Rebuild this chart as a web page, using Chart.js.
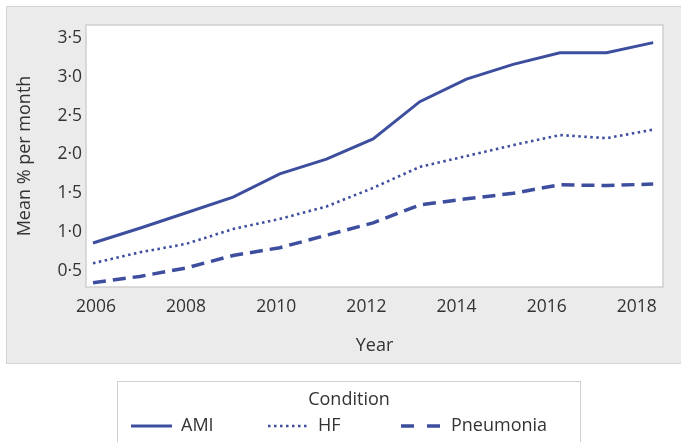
<!DOCTYPE html>
<html>
<head>
<meta charset="utf-8">
<script src="https://cdn.jsdelivr.net/npm/chart.js@4.4.0/dist/chart.umd.min.js"></script>
<style>
  html, body { margin: 0; padding: 0; background: #fff; }
  #wrap { width: 681px; height: 442px; }
</style>
</head>
<body>
<div id="wrap"><canvas id="chart" width="681" height="442"></canvas></div>
<script>
// Data
var years = [2006, 2007, 2008, 2009, 2010, 2011, 2012, 2013, 2014, 2015, 2016, 2017, 2018];
var ami = [0.86, 1.05, 1.25, 1.45, 1.75, 1.94, 2.20, 2.68, 2.97, 3.16, 3.31, 3.31, 3.44];
var hf = [0.60, 0.74, 0.85, 1.04, 1.17, 1.33, 1.57, 1.84, 1.98, 2.12, 2.25, 2.21, 2.32];
var pneumonia = [0.35, 0.43, 0.54, 0.70, 0.80, 0.96, 1.12, 1.35, 1.43, 1.50, 1.61, 1.60, 1.62];
var seriesNames = ["AMI", "HF", "Pneumonia"];

var lineColor = "#3d4e9e";
var textColor = "#333333";
var fontFamily = "'Open Sans', 'Noto Sans', sans-serif";

function pairs(values) {
  return years.map(function(y, i) { return { x: y, y: values[i] }; });
}

// Lancet style decimal point
function fmtTick(v) {
  return v.toFixed(1).replace(".", "\u00b7");
}

// gray panel + white plot box
var panelPlugin = {
  id: "panel",
  beforeDraw: function(chart) {
    var ctx = chart.ctx;
    var a = chart.chartArea;
    ctx.save();
    ctx.fillStyle = "#ebebeb";
    ctx.fillRect(6, 6, 680, 358);
    ctx.strokeStyle = "#d4d4d4";
    ctx.lineWidth = 1;
    ctx.strokeRect(6.5, 6.5, 680, 357);
    ctx.fillStyle = "#ffffff";
    ctx.fillRect(a.left, a.top, a.right - a.left, a.bottom - a.top);
    ctx.strokeStyle = "#d0d0d0";
    ctx.lineWidth = 1.5;
    ctx.strokeRect(a.left, a.top, a.right - a.left, a.bottom - a.top);
    ctx.restore();
  }
};

// legend box under the panel
var legendX = [131, 268, 401];
var legendDash = [[], [2.5, 3.5], [13, 13]];
var legendPlugin = {
  id: "conditionLegend",
  afterDraw: function(chart) {
    var ctx = chart.ctx;
    ctx.save();
    ctx.fillStyle = "#ffffff";
    ctx.fillRect(117, 381, 463, 70);
    ctx.strokeStyle = "#cfcfcf";
    ctx.lineWidth = 1;
    ctx.strokeRect(117.5, 381.5, 463, 70);

    ctx.fillStyle = textColor;
    ctx.font = "18px " + fontFamily;
    ctx.textAlign = "center";
    ctx.textBaseline = "middle";
    ctx.fillText("Condition", 349, 400);

    ctx.textAlign = "left";
    chart.data.datasets.forEach(function(ds, i) {
      var x = legendX[i];
      ctx.strokeStyle = ds.borderColor;
      ctx.lineWidth = ds.borderWidth;
      ctx.setLineDash(legendDash[i]);
      ctx.beginPath();
      ctx.moveTo(x, 426);
      ctx.lineTo(x + 41, 426);
      ctx.stroke();
      ctx.setLineDash([]);
      ctx.fillStyle = textColor;
      ctx.fillText(ds.label, x + 50, 426);
    });
    ctx.restore();
  }
};

var chart = new Chart(document.getElementById("chart"), {
  type: "line",
  data: {
    datasets: [
      {
        label: seriesNames[0],
        data: pairs(ami),
        borderColor: lineColor,
        borderWidth: 3,
        pointRadius: 0
      }, {
        label: seriesNames[1],
        data: pairs(hf),
        borderColor: lineColor,
        borderWidth: 2.6,
        borderDash: [2.5, 3.5],
        pointRadius: 0
      }, {
        label: seriesNames[2],
        data: pairs(pneumonia),
        borderColor: lineColor,
        borderWidth: 3.5,
        borderDash: [13, 7],
        pointRadius: 0
      }
    ]
  },
  options: {
    responsive: false,
    animation: false,
    layout: { padding: { left: 0, right: 18, top: 25, bottom: 78 } },
    plugins: {
      legend: { display: false },
      tooltip: { enabled: false }
    },
    scales: {
      x: {
        type: "linear",
        display: false,
        min: 2005.85,
        max: 2018.21
      },
      xTicks: {
        type: "linear",
        position: "bottom",
        min: 2005.78,
        max: 2018.58,
        grid: { display: false, drawTicks: false },
        border: { display: false },
        ticks: {
          stepSize: 2,
          includeBounds: false,
          autoSkip: false,
          maxRotation: 0,
          padding: 10,
          color: textColor,
          font: { family: fontFamily, size: 17.5 },
          callback: function(v) { return String(v); }
        },
        title: {
          display: true,
          text: "Year",
          color: textColor,
          font: { family: fontFamily, size: 18 },
          padding: { top: 0, bottom: 7 }
        },
        afterFit: function(s) { s.height = 77; }
      },
      y: {
        type: "linear",
        min: 0.294,
        max: 3.667,
        grid: { display: false, drawTicks: false },
        border: { display: false },
        ticks: {
          stepSize: 0.5,
          includeBounds: false,
          padding: 4,
          color: textColor,
          font: { family: fontFamily, size: 17.5 },
          callback: function(v) { return fmtTick(v); }
        },
        title: {
          display: true,
          text: "Mean % per month",
          color: textColor,
          font: { family: fontFamily, size: 18 },
          padding: { top: 14, bottom: 0 }
        },
        afterFit: function(s) { s.width = 86; }
      }
    }
  },
  plugins: [panelPlugin, legendPlugin]
});
</script>
</body>
</html>
